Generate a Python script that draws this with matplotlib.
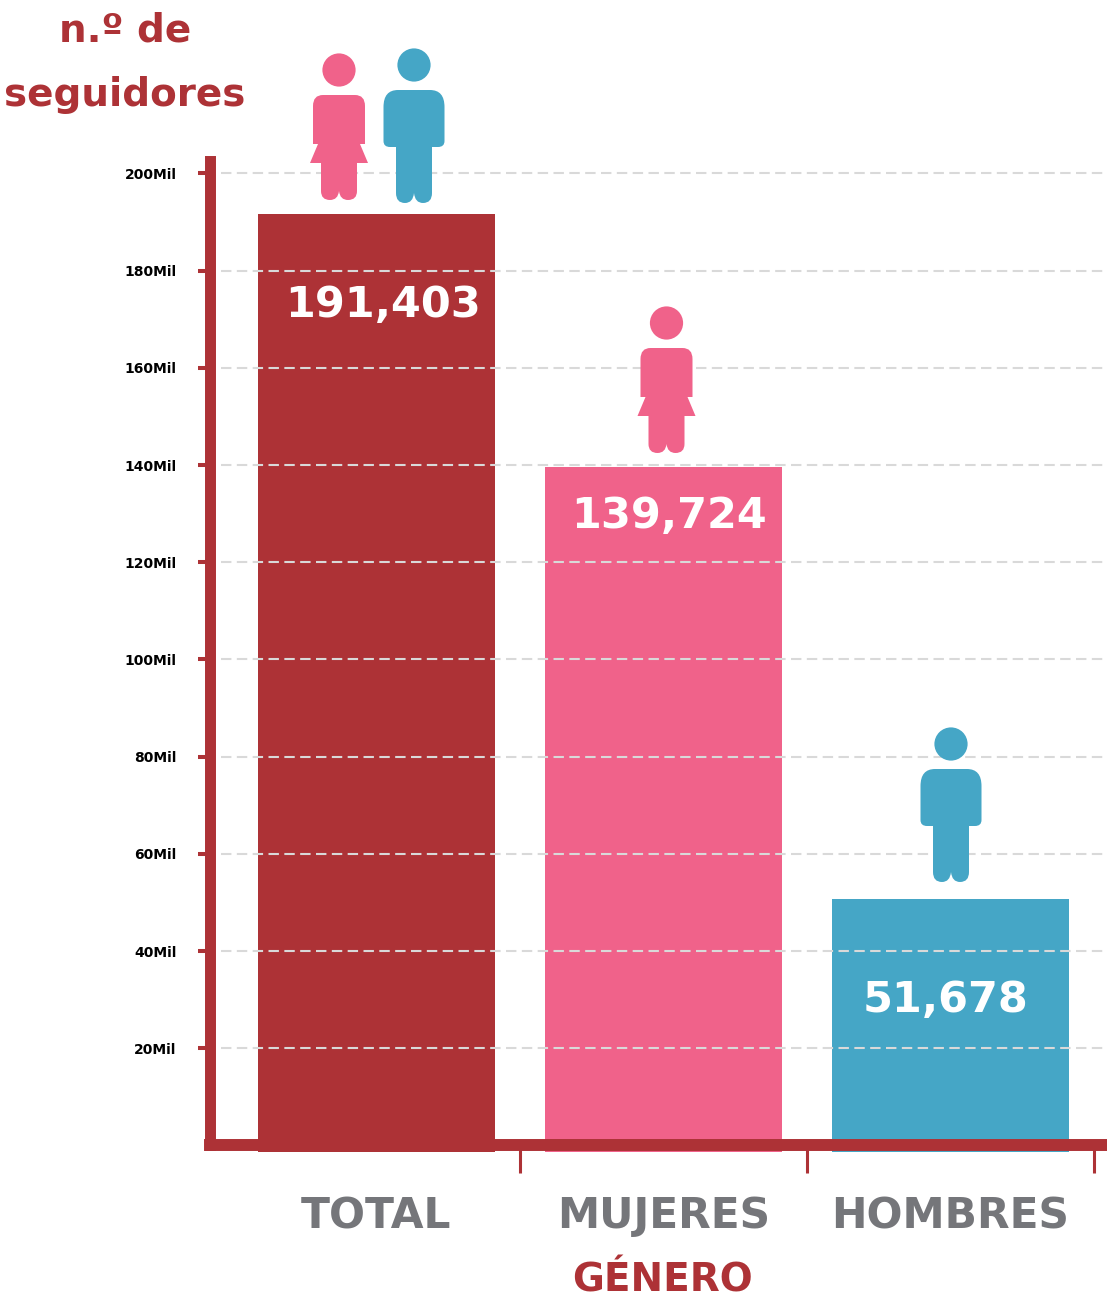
#!/usr/bin/env python3
"""Seguidores por genero: bars with person icons."""
import matplotlib
matplotlib.use("Agg")
import matplotlib.pyplot as plt
from matplotlib.path import Path
from matplotlib.patches import PathPatch, Circle
from matplotlib import font_manager as fm
from matplotlib.transforms import ScaledTranslation

W, H = 1107, 1296
RED = "#AD3236"
PINK = "#F0628A"
BLUE = "#45A6C6"
GREY = "#75767A"
GRID = "#D9D9D9"

categories = ["TOTAL", "MUJERES", "HOMBRES"]
values = [191403, 139724, 51678]
value_labels = ["191,403", "139,724", "51,678"]
bar_colors = [RED, PINK, BLUE]
y_ticks = [20000, 40000, 60000, 80000, 100000, 120000, 140000, 160000, 180000, 200000]
y_labels = ["20Mil", "40Mil", "60Mil", "80Mil", "100Mil", "120Mil", "140Mil", "160Mil", "180Mil", "200Mil"]

plt.rcParams["font.family"] = ["DejaVu Sans"]
plt.rcParams["font.weight"] = "bold"


def px_axes(fig, left, top, right, bottom):
    return fig.add_axes([left / W, 1 - bottom / H, (right - left) / W, (bottom - top) / H])


def woman_path(cx, cy):
    M, L, Q, C = Path.MOVETO, Path.LINETO, Path.CURVE3, Path.CLOSEPOLY
    pts = [
        (-16, 25, M), (16, 25, L), (26, 25, Q), (26, 36, Q), (26, 74, L), (21, 74, L),
        (29, 93, L), (18, 93, L), (18, 121, L), (18, 130, Q), (9, 130, Q), (1, 130, Q),
        (0, 121, Q), (-1, 130, Q), (-9, 130, Q), (-18, 130, Q), (-18, 121, Q),
        (-18, 93, L), (-29, 93, L), (-21, 74, L), (-26, 74, L), (-26, 36, L),
        (-26, 25, Q), (-16, 25, Q), (-16, 25, C),
    ]
    return Path([(cx + p[0], cy + p[1]) for p in pts], [p[2] for p in pts])


def man_path(cx, cy):
    M, L, Q, C = Path.MOVETO, Path.LINETO, Path.CURVE3, Path.CLOSEPOLY
    pts = [
        (-16, 25, M), (16, 25, L), (30.5, 25, Q), (30.5, 42, Q), (30.5, 76, L),
        (30.5, 82, Q), (24, 82, Q), (18, 82, L), (18, 128, L), (18, 138, Q), (9, 138, Q),
        (1, 138, Q), (0, 128, Q), (-1, 138, Q), (-9, 138, Q), (-18, 138, Q), (-18, 128, Q),
        (-18, 82, L), (-24, 82, L), (-30.5, 82, Q), (-30.5, 76, Q), (-30.5, 42, L),
        (-30.5, 25, Q), (-16, 25, Q), (-16, 25, C),
    ]
    return Path([(cx + p[0], cy + p[1]) for p in pts], [p[2] for p in pts])


def add_person(ov, kind, cx, cy):
    color = PINK if kind == "w" else BLUE
    path = woman_path(cx, cy) if kind == "w" else man_path(cx, cy)
    ov.add_patch(PathPatch(path, fc=color, ec="none", zorder=5))
    ov.add_patch(Circle((cx, cy), 16.6, fc=color, ec="none", zorder=5))


fig = plt.figure(figsize=(W / 100, H / 100), dpi=100)

# bars have their own axes: in the picture they don't quite sit on the tick scale
ax_bars = px_axes(fig, 210, 161, 1107, 1152)
ax_bars.set_xlim(-0.58, 2.545)
ax_bars.set_ylim(0, (1152 - 161) / 0.0049)
ax_bars.bar(range(3), values, width=237 / 287, color=bar_colors)
ax_bars.axis("off")

ax = px_axes(fig, 210, 161, 1107, 1145.4)
ax.patch.set_alpha(0)
ax.set_xlim(-0.58, 2.545)
ax.set_ylim(0, (1145.4 - 161) / 97.2 * 20000)

ax.set_yticks(y_ticks)
ax.set_yticklabels(y_labels, fontsize=30.5, color=GREY)
ax.tick_params(axis="y", length=9, width=2.9, color=RED, pad=15)
for lab, tx in zip(ax.get_yticklabels(), y_labels):
    if tx == "200Mil":
        lab.set_transform(lab.get_transform() + ScaledTranslation(6 / 100, 0, fig.dpi_scale_trans))

ax.set_xticks([0.5, 1.5, 2.5])
ax.set_xticklabels([])
ax.set_xticks([0, 1, 2], minor=True)
ax.set_xticklabels(categories, minor=True, fontsize=30.5, color=GREY)
ax.tick_params(axis="x", which="major", length=20, width=2.2, color=RED)
ax.tick_params(axis="x", which="minor", length=0, pad=36)

for s in ["top", "right"]:
    ax.spines[s].set_visible(False)
ax.spines["left"].set_linewidth(7.9)
ax.spines["left"].set_color(RED)
ax.spines["left"].set_position(("outward", 0))
ax.spines["bottom"].set_linewidth(8.6)
ax.spines["bottom"].set_color(RED)

# overlay in pixel coordinates for the things placed by hand
ov = fig.add_axes([0, 0, 1, 1])
ov.set_xlim(0, W)
ov.set_ylim(H, 0)
ov.axis("off")

for v in y_ticks:
    y = 1145.4 - v / 20000 * 97.2
    ov.plot([221, 1107], [y, y], color=GRID, lw=1.5, dashes=(5, 2.6), zorder=3)

ov.text(125, 30, "n.º de", color=RED, fontsize=28, ha="center", va="center")
ov.text(125, 95, "seguidores", color=RED, fontsize=28, ha="center", va="center")
ov.text(662, 1280, "GÉNERO", color=RED, fontsize=28, ha="center", va="center")

label_pos = [(383, 305), (669, 516), (945, 1000)]
for lab, (lx, ly) in zip(value_labels, label_pos):
    ov.text(lx, ly, lab, color="white", fontsize=31, ha="center", va="center", zorder=6)

add_person(ov, "w", 339, 70)
add_person(ov, "m", 414, 65)
add_person(ov, "w", 666.5, 323)
add_person(ov, "m", 951, 744)

fig.savefig("out.png", dpi=100)
